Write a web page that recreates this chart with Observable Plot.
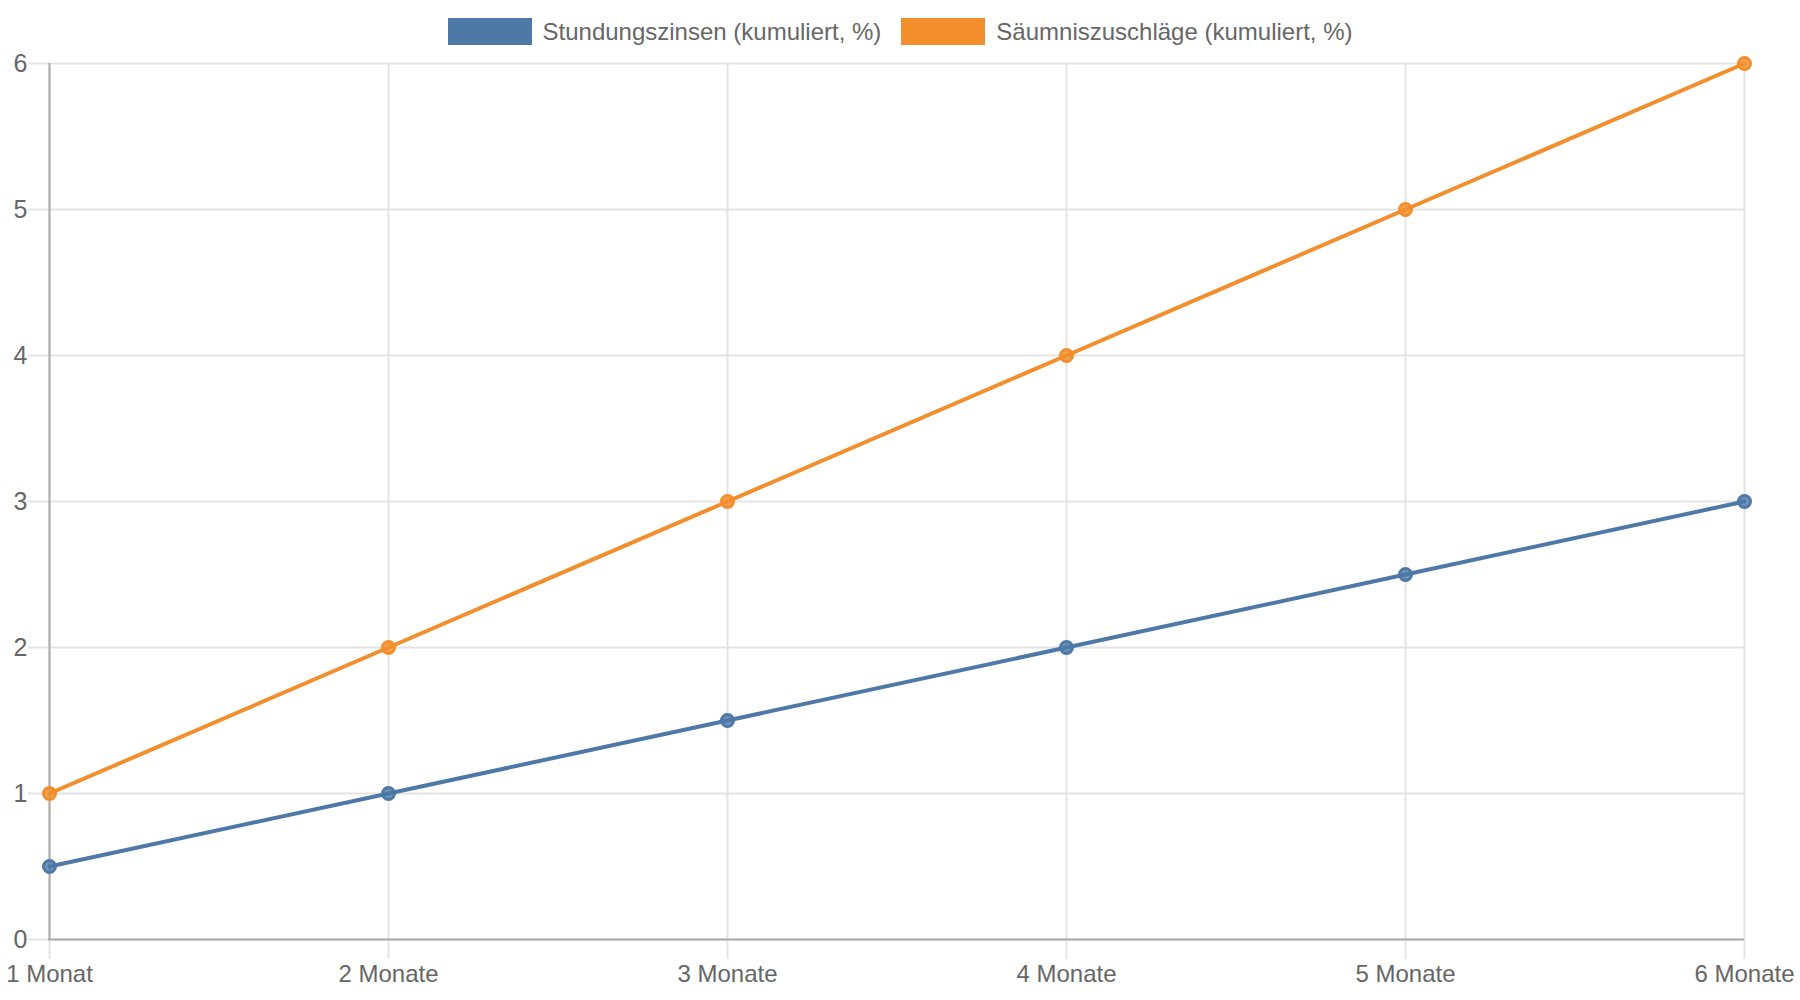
<!DOCTYPE html>
<html>
<head>
<meta charset="utf-8">
<script src="https://cdn.jsdelivr.net/npm/d3@7"></script>
<script src="https://cdn.jsdelivr.net/npm/@observablehq/plot@0.6"></script>
<style>
  html, body { margin: 0; padding: 0; background: #fff; }
  #legend {
    height: 50px; box-sizing: border-box; padding-top: 18px;
    display: flex; justify-content: center; align-items: flex-start;
    font-family: "Liberation Sans", Arial, sans-serif; font-size: 24px; color: #666;
  }
  .item { display: flex; align-items: center; height: 27px; margin: 0 10px; }
  .swatch { width: 84px; height: 27px; margin-right: 11px; }
</style>
</head>
<body>
<div id="legend"></div>
<div id="chart"></div>
<script>
const months = ["1 Monat", "2 Monate", "3 Monate", "4 Monate", "5 Monate", "6 Monate"];
const stundungszinsen = [0.5, 1, 1.5, 2, 2.5, 3];
const saeumniszuschlaege = [1, 2, 3, 4, 5, 6];
const seriesNames = ["Stundungszinsen (kumuliert, %)", "Säumniszuschläge (kumuliert, %)"];
const seriesColors = ["#4e79a7", "#f28e2b"];
const yTicks = [0, 1, 2, 3, 4, 5, 6];

const data = months.flatMap((m, i) => [
  { month: m, value: stundungszinsen[i], series: seriesNames[0] },
  { month: m, value: saeumniszuschlaege[i], series: seriesNames[1] }
]);

const legend = document.getElementById("legend");
seriesNames.forEach((name, i) => {
  const item = document.createElement("div");
  item.className = "item";
  const sw = document.createElement("span");
  sw.className = "swatch";
  sw.style.background = seriesColors[i];
  const label = document.createElement("span");
  label.textContent = name;
  item.appendChild(sw);
  item.appendChild(label);
  legend.appendChild(item);
});

const grid = "#e4e4e4";
const chart = Plot.plot({
  width: 1800,
  height: 950,
  marginTop: 13,
  marginBottom: 61,
  marginLeft: 48,
  marginRight: 56,
  style: { fontFamily: "Liberation Sans, Arial, sans-serif", fontSize: "24px", color: "#666", background: "#fff", overflow: "visible" },
  x: { type: "point", domain: months, padding: 0 },
  y: { domain: [0, 6] },
  color: { domain: seriesNames, range: seriesColors },
  marks: [
    Plot.gridX(months, { stroke: grid, strokeOpacity: 1, strokeWidth: 2 }),
    Plot.gridY(yTicks, { stroke: grid, strokeOpacity: 1, strokeWidth: 2 }),
    Plot.axisX(months, { tickSize: 20, tickPadding: 5, stroke: grid, strokeWidth: 2, fill: "#666", fontSize: 24, label: null }),
    Plot.axisY(yTicks, { tickSize: 20, tickPadding: 1, stroke: grid, strokeWidth: 2, fill: "#666", fontSize: 25, label: null, tickFormat: d => String(d) }),
    Plot.ruleX([months[0]], { stroke: "#aaa", strokeWidth: 2 }),
    Plot.ruleY([0], { stroke: "#aaa", strokeWidth: 2 }),
    Plot.line(data, { x: "month", y: "value", z: "series", stroke: "series", strokeWidth: 4 }),
    Plot.dot(data, { x: "month", y: "value", r: 6, stroke: "series", fill: "series", fillOpacity: 0.8, strokeWidth: 3 })
  ]
});
document.getElementById("chart").appendChild(chart);
</script>
</body>
</html>
